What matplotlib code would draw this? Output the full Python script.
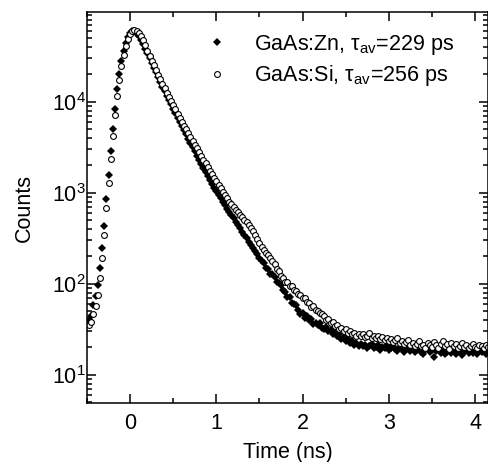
import numpy as np
import matplotlib
matplotlib.use("Agg")
import matplotlib.pyplot as plt
from matplotlib.ticker import MultipleLocator, LogLocator

plt.rcParams['font.family'] = ['Liberation Sans', 'DejaVu Sans']
plt.rcParams['mathtext.fontset'] = 'custom'
plt.rcParams['mathtext.rm'] = 'Liberation Sans'

# time channels (ns), 25 ps per channel
t_start = -0.475
t_step = 0.025

# GaAs:Zn counts, one value per channel
zn_counts = [
  40, 44, 59, 74, 97, 150, 249, 434, 859, 1580, 2900, 5050, 8380, 13900, 20300,
  28300, 36300, 44500, 51800, 57300, 60200, 60200,
  55200, 52300, 48100, 42900, 38300, 34100, 30300, 26900, 23800, 21000, 18600,
  16400, 14600, 13000, 11600, 10400, 9360, 8380, 7500, 6720, 6030, 5400, 4860,
  4380, 3930, 3540, 3170, 2850, 2560, 2310, 2080, 1880, 1700, 1530, 1380, 1250,
  1140, 1040, 955, 875, 802, 734, 672, 617, 569, 523, 481, 444, 408, 375, 345,
  317, 291, 267, 246, 228, 210, 194,
  180, 170, 150, 146, 128, 127, 120, 105, 101, 96, 85, 82, 72, 71, 62, 60, 58,
  51, 47, 48, 42.5, 44, 40, 41, 36.5, 37.5, 35, 37, 33, 32, 33.5, 30, 31, 28,
  29.5, 27, 28, 25, 26, 23.5, 24.6, 22.2, 23.4, 21, 22.5, 20.8, 21.7,
  20.6, 21.4, 19.8, 20.9, 22.0, 19.5, 20.3, 21.1, 18.9, 20.0,
  19.6, 21.3, 18.7, 19.9, 20.8, 19.2, 18.4, 20.2, 19.0, 17.8,
  19.5, 20.6, 18.2, 19.1, 17.6, 18.8, 19.9, 18.0, 16.9, 18.5,
  19.4, 17.7, 18.9, 15.6, 18.2, 19.3, 17.4, 18.6, 16.8, 18.0,
  19.0, 17.3, 18.4, 17.0, 19.2, 18.1, 16.6, 17.9, 18.8, 17.5,
  19.6, 17.2, 18.3, 16.9, 18.7, 17.8, 19.1, 17.0, 18.2,
]

# GaAs:Si counts
si_counts = [
  35, 38, 46, 57, 76, 116, 193, 345, 684, 1290, 2370, 4230, 7200, 11600, 17500,
  24900, 32800, 41200, 49200, 55800, 60200, 61100,
  59600, 57300, 52400, 48000, 42000, 36600, 32000, 28400, 25200, 22400, 19900,
  17700, 15700, 14100, 12600, 11400, 10200, 9190, 8230, 7420, 6670, 6040, 5470,
  4970, 4520, 4110, 3720, 3380, 3070, 2790, 2540, 2320, 2120, 1930, 1750, 1600,
  1470, 1340, 1230, 1130, 1030, 946, 866, 794, 746, 698, 654, 614, 574, 539,
  505, 474, 440, 408, 376, 340, 308, 279, 252, 235, 220, 206, 193,
  179, 166, 146, 138, 121, 117, 106, 104, 95, 94, 86, 84, 77, 76, 69, 70, 63,
  62, 56, 57, 52, 50, 48, 47, 44, 40, 41, 37.5, 38, 34.5, 35.5, 32, 33, 30.5,
  31.5, 29, 30, 28, 28.6, 26.8,
  27.8, 26.5, 27.9, 25.9, 27.0, 28.6, 25.6, 26.8, 25.1, 26.4, 24.9,
  26.0, 24.2, 25.3, 23.6, 24.8, 22.9, 24.0, 25.6, 22.5, 23.4, 21.8, 23.0, 24.1, 21.5,
  22.4, 20.9, 21.8, 23.3, 20.6, 21.5, 19.8, 22.6, 21.1, 20.2, 22.9, 21.3, 19.6, 21.7, 23.5,
  20.5, 21.9, 19.4, 22.2, 20.8, 21.6, 19.9, 20.7, 22.5, 20.1, 21.2,
  19.7, 20.9, 21.8, 20.3, 19.5, 21.4, 20.6, 19.9, 21.1, 20.4,
]

labels = ['GaAs:Zn, τ$_{\\mathregular{av}}$=229 ps',
          'GaAs:Si, τ$_{\\mathregular{av}}$=256 ps']

time_ns = t_start + t_step * np.arange(len(zn_counts))

fig = plt.figure(figsize=(4.89, 4.62), dpi=100)
ax = fig.add_axes([87/489, 1 - 403/462, 401/489, 391/462])

ax.plot(time_ns, zn_counts, 'D', color='k', markersize=3.6, markeredgewidth=0, label=labels[0])
ax.plot(time_ns, si_counts, 'o', markerfacecolor='white', markeredgecolor='k',
        markersize=4.2, markeredgewidth=0.8, label=labels[1])

ax.set_yscale('log')
ax.set_xlim(-0.5, 4.15)
ax.set_ylim(4.9, 9.7e4)

ax.xaxis.set_major_locator(MultipleLocator(1))
ax.xaxis.set_minor_locator(MultipleLocator(0.5))
ax.yaxis.set_minor_locator(LogLocator(base=10, subs=np.arange(2, 10)))

ax.tick_params(which='both', direction='in', top=True, right=True, width=1.1, labelsize=15.5)
ax.tick_params(which='major', length=6.5)
ax.tick_params(which='minor', length=3.5)
ax.tick_params(axis='x', pad=7)
ax.tick_params(axis='y', pad=1)
for s in ax.spines.values():
  s.set_linewidth(1.1)

ax.set_xlabel('Time (ns)', fontsize=15.5, labelpad=6)
ax.set_ylabel('Counts', fontsize=15.5, labelpad=12)

ax.legend(loc='upper left', bbox_to_anchor=(0.26, 0.985), frameon=False, fontsize=15.5,
          handlelength=1.0, handletextpad=1.2, labelspacing=0.3, borderaxespad=0.3)

fig.savefig('out.png', dpi=100)
